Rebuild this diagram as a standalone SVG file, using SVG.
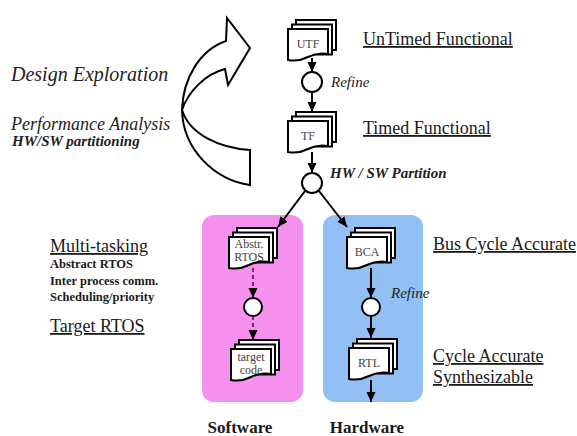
<svg xmlns="http://www.w3.org/2000/svg" xmlns:xlink="http://www.w3.org/1999/xlink" width="577" height="436" viewBox="0 0 577 436">
<style>
  .pg { fill:#fff; stroke:#000; stroke-width:2; stroke-linejoin:miter; }
  .circ { fill:#fff; stroke:#000; stroke-width:2; }
  .con { fill:none; stroke:#000; stroke-width:2; }
  .dash { fill:none; stroke:#8a1f6e; stroke-width:2; stroke-dasharray:4 3; }
  text { font-family:'Liberation Serif','Times New Roman',Tinos,'DejaVu Serif',serif; }
  .doctxt { font-size:12px; fill:#444; text-anchor:middle; }
  .lbl { font-size:18px; fill:#1a1a1a; text-decoration:underline; }
  .small { font-size:12.5px; font-weight:bold; fill:#1a1a1a; }
  .ital { font-style:italic; fill:#222; }
  .bold { font-weight:bold; font-size:17px; fill:#1a1a1a; text-anchor:middle; }
</style>
<defs>
  <g id="docshape">
    <rect class="pg" x="8" y="-9" width="40" height="30"/>
    <rect class="pg" x="4" y="-4.5" width="40" height="30"/>
    <path class="pg" d="M0,0 H40 V25 Q30,23 20,28 T0,31 Z"/>
  </g>
  <marker id="ah" markerUnits="userSpaceOnUse" markerWidth="10" markerHeight="10" viewBox="0 0 10 10" refX="10" refY="5" orient="auto">
    <path d="M0,0.5 L10,5 L0,9.5 Z" fill="#000"/>
  </marker>
</defs>

<g id="software-panel">
  <rect x="202" y="215" width="101" height="187" rx="12" fill="#f590ef"/>
</g>
<g id="hardware-panel">
  <rect x="323" y="215" width="100" height="187" rx="12" fill="#92bff4"/>
</g>

<g id="design-arrow">
  <path d="M226,41 C200,50 183,78 182,110 C183,150 215,180 250,185 L250,150 C220,148 190,135 182,110 C188,92 205,74 225,69 L228,85 L250,48 L227,18 Z" fill="#fff" stroke="#000" stroke-width="2" stroke-linejoin="miter"/>
</g>

<g id="connectors">
  <line class="con" x1="312" y1="58" x2="312" y2="72" marker-end="url(#ah)"/>
  <line class="con" x1="312" y1="92" x2="312" y2="112" marker-end="url(#ah)"/>
  <line class="con" x1="312" y1="152" x2="312" y2="173" marker-end="url(#ah)"/>
  <line class="con" x1="305" y1="191" x2="278" y2="227" marker-end="url(#ah)"/>
  <line class="con" x1="319" y1="191" x2="347" y2="227" marker-end="url(#ah)"/>
  <line class="dash" x1="253" y1="268" x2="253" y2="298" marker-end="url(#ah)"/>
  <line class="dash" x1="253" y1="316" x2="253" y2="340" marker-end="url(#ah)"/>
  <line class="con" x1="371" y1="268" x2="371" y2="298" marker-end="url(#ah)"/>
  <line class="con" x1="371" y1="316" x2="371" y2="338" marker-end="url(#ah)"/>
  <line class="con" x1="371" y1="380" x2="371" y2="402" marker-end="url(#ah)"/>
</g>

<g id="UTF">
  <use xlink:href="#docshape" x="288" y="29"/>
  <text class="doctxt" x="308" y="48">UTF</text>
</g>
<g id="refine1">
  <circle class="circ" cx="312" cy="82" r="10"/>
</g>
<g id="TF">
  <use xlink:href="#docshape" x="288" y="121"/>
  <text class="doctxt" x="308" y="140">TF</text>
</g>
<g id="partition">
  <circle class="circ" cx="312" cy="183" r="10"/>
</g>
<g id="AbstrRTOS">
  <use xlink:href="#docshape" x="229" y="237"/>
  <text class="doctxt" x="249" y="248">Abstr.</text>
  <text class="doctxt" x="249" y="261">RTOS</text>
</g>
<g id="sw-circle">
  <circle class="circ" cx="253" cy="307" r="9"/>
</g>
<g id="targetcode">
  <use xlink:href="#docshape" x="231" y="349"/>
  <text class="doctxt" x="251" y="361">target</text>
  <text class="doctxt" x="251" y="374">code</text>
</g>
<g id="BCA">
  <use xlink:href="#docshape" x="347" y="237"/>
  <text class="doctxt" x="367" y="256">BCA</text>
</g>
<g id="hw-circle">
  <circle class="circ" cx="371" cy="307" r="9"/>
</g>
<g id="RTL">
  <use xlink:href="#docshape" x="349" y="348"/>
  <text class="doctxt" x="369" y="367">RTL</text>
</g>

<g id="labels">
  <text class="ital" x="11" y="81" font-size="20" fill="#444">Design Exploration</text>
  <text class="ital" x="11" y="130" font-size="18" fill="#333">Performance Analysis</text>
  <text class="ital" x="12" y="146" font-size="15" font-weight="bold">HW/SW partitioning</text>
  <text class="lbl" x="363" y="45">UnTimed Functional</text>
  <text class="lbl" x="363" y="134">Timed Functional</text>
  <text class="ital" x="331" y="87" font-size="15">Refine</text>
  <text class="ital" x="330" y="178" font-size="15" font-weight="bold">HW / SW Partition</text>
  <text class="lbl" x="433" y="250">Bus Cycle Accurate</text>
  <text class="ital" x="391" y="298" font-size="15" fill="#1a2a5a">Refine</text>
  <text class="lbl" x="433" y="362">Cycle Accurate</text>
  <text class="lbl" x="433" y="383">Synthesizable</text>
  <text class="lbl" x="50" y="252">Multi-tasking</text>
  <text class="small" x="50" y="268">Abstract RTOS</text>
  <text class="small" x="50" y="285">Inter process comm.</text>
  <text class="small" x="50" y="301">Scheduling/priority</text>
  <text class="lbl" x="50" y="332">Target RTOS</text>
  <text class="bold" x="240" y="433">Software</text>
  <text class="bold" x="367" y="433">Hardware</text>
</g>
</svg>
